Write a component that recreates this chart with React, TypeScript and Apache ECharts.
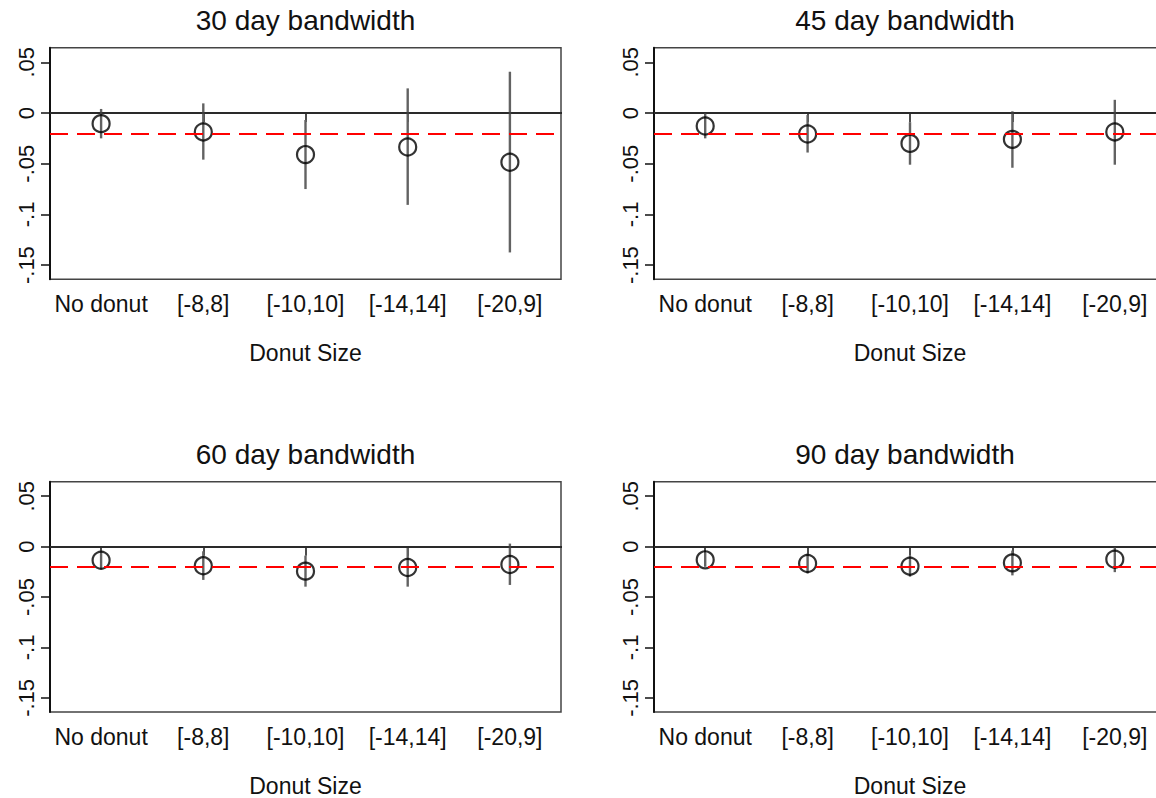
import React, { useEffect, useRef } from "react";
import * as echarts from "echarts";

const categories = ["No donut", "[-8,8]", "[-10,10]", "[-14,14]", "[-20,9]"];
const panelTitles = ["30 day bandwidth", "45 day bandwidth", "60 day bandwidth", "90 day bandwidth"];
const xAxisTitle = "Donut Size";

const yTickValues = [-0.15, -0.1, -0.05, 0, 0.05];
const yTickLabels = ["-.15", "-.1", "-.05", "0", ".05"];

const est30 = [-0.0105, -0.0187, -0.041, -0.0335, -0.0486];
const lo30 = [-0.025, -0.046, -0.075, -0.0906, -0.1375];
const hi30 = [0.004, 0.0095, -0.0069, 0.0243, 0.0407];

const est45 = [-0.0128, -0.0207, -0.03, -0.026, -0.0187];
const lo45 = [-0.025, -0.039, -0.051, -0.054, -0.051];
const hi45 = [0.0, -0.002, -0.009, 0.0017, 0.013];

const est60 = [-0.0135, -0.019, -0.0243, -0.0207, -0.0177];
const lo60 = [-0.0226, -0.033, -0.0397, -0.0397, -0.038];
const hi60 = [-0.004, -0.0046, -0.0089, -0.0013, 0.003];

const est90 = [-0.0131, -0.0167, -0.0194, -0.0161, -0.0125];
const lo90 = [-0.02, -0.0266, -0.0298, -0.0285, -0.0253];
const hi90 = [-0.0056, -0.0069, -0.0089, -0.0039, -0.0003];

const refValue = -0.019;
const yMin = -0.164;
const yMax = 0.0644;

const panels = [
  { est: est30, lo: lo30, hi: hi30 },
  { est: est45, lo: lo45, hi: hi45 },
  { est: est60, lo: lo60, hi: hi60 },
  { est: est90, lo: lo90, hi: hi90 },
];

const FONT = "Liberation Sans, Arial, Helvetica, sans-serif";

const gridPos = [
  { left: 50, top: 47.7, width: 511, height: 231.6 },
  { left: 654, top: 47.7, width: 512, height: 231.6 },
  { left: 50, top: 481.7, width: 511, height: 232.6 },
  { left: 654, top: 481.7, width: 512, height: 232.6 },
];

function yLabel(v: number): string {
  for (let i = 0; i < yTickValues.length; i++) {
    if (Math.abs(yTickValues[i] - v) < 1e-9) return yTickLabels[i];
  }
  return "";
}

export default function App() {
  const ref = useRef<HTMLDivElement>(null);
  useEffect(() => {
    if (!ref.current) return;
    const chart = echarts.init(ref.current, undefined, { renderer: "svg" });

    const grids = gridPos.map((g) => ({
      ...g,
      show: true,
      borderColor: "#444",
      borderWidth: 1.5,
      backgroundColor: "transparent",
    }));

    const xAxes = gridPos.map((_, i) => ({
      type: "category",
      gridIndex: i,
      data: categories,
      boundaryGap: true,
      axisLine: { show: true, lineStyle: { color: "#111", width: 2 } },
      axisTick: { show: true, alignWithLabel: true, length: 9, lineStyle: { color: "#111", width: 1.5 } },
      axisLabel: { show: true, margin: 13, fontSize: 23, color: "#111", fontFamily: FONT, interval: 0 },
      splitLine: { show: false },
      name: xAxisTitle,
      nameLocation: "middle",
      nameGap: 62,
      nameTextStyle: { fontSize: 23, color: "#111", fontFamily: FONT },
    }));

    const yAxes = gridPos.map((_, i) => ({
      type: "value",
      gridIndex: i,
      min: yMin,
      max: yMax,
      axisLine: { show: true, lineStyle: { color: "#111", width: 2 } },
      axisTick: { show: true, length: 9, customValues: yTickValues, lineStyle: { color: "#111", width: 1.5 } },
      axisLabel: {
        show: true,
        rotate: 90,
        margin: 13,
        fontSize: 22,
        color: "#111",
        fontFamily: FONT,
        customValues: yTickValues,
        formatter: (v: number) => yLabel(v),
      },
      splitLine: { show: false },
    }));

    const series: any[] = [];
    panels.forEach((p, i) => {
      series.push({
        type: "custom",
        xAxisIndex: i,
        yAxisIndex: i,
        z: 2,
        data: categories.map((_, k) => [k, p.lo[k], p.hi[k]]),
        renderItem: (params: any, api: any) => {
          const a = api.coord([api.value(0), api.value(1)]);
          const b = api.coord([api.value(0), api.value(2)]);
          return {
            type: "line",
            shape: { x1: a[0], y1: a[1], x2: b[0], y2: b[1] },
            style: { stroke: "#626262", lineWidth: 2.4 },
          };
        },
        markLine: {
          silent: true,
          symbol: ["none", "none"],
          label: { show: false },
          lineStyle: { color: "#333", width: 1.6, type: "solid" },
          data: [{ yAxis: 0 }],
        },
      });
      series.push({
        type: "scatter",
        xAxisIndex: i,
        yAxisIndex: i,
        z: 4,
        data: categories.map((_, k) => [k, p.est[k]]),
        symbol: "circle",
        symbolSize: 17,
        itemStyle: { color: "rgba(0,0,0,0)", borderColor: "#000", borderWidth: 2.2 },
        markLine: {
          silent: true,
          symbol: ["none", "none"],
          label: { show: false },
          lineStyle: { color: "#ff0000", width: 2.2, type: [18, 9] },
          data: [{ yAxis: refValue }],
        },
      });
    });

    const graphic = panelTitles.map((t, i) => ({
      type: "text",
      x: gridPos[i].left + (i % 2 === 0 ? 511 : 512) / 2 - (i % 2 === 1 ? 5 : 0),
      y: gridPos[i].top - 27,
      style: {
        text: t,
        fill: "#111",
        font: `28px ${FONT}`,
        textAlign: "center",
        textVerticalAlign: "middle",
      },
    }));

    chart.setOption({
      animation: false,
      backgroundColor: "#fff",
      grid: grids,
      xAxis: xAxes,
      yAxis: yAxes,
      series,
      graphic,
    });
    return () => chart.dispose();
  }, []);
  return (
    <div
      style={{ position: "fixed", left: 0, top: 0, width: 1156, height: 798, overflow: "hidden", background: "#fff" }}
    >
      <div ref={ref} style={{ width: 1175, height: 798 }} />
    </div>
  );
}
